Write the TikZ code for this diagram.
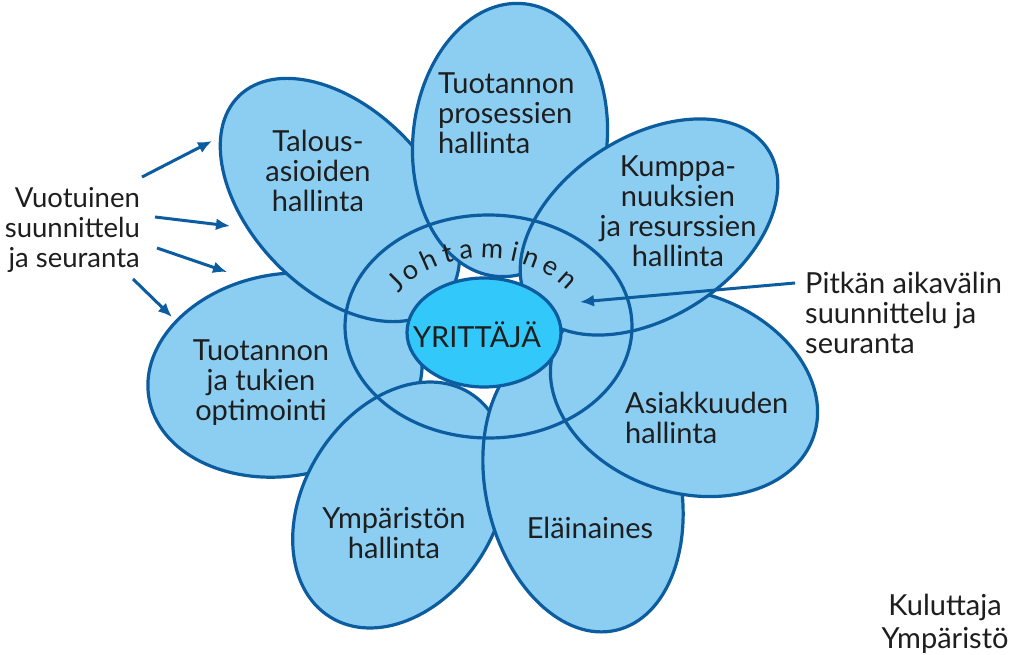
\documentclass[tikz,border=0pt]{standalone}
\usepackage{fontspec}
\setmainfont{Lato}
\usetikzlibrary{arrows.meta}
\definecolor{petalfill}{RGB}{140,206,242}
\definecolor{edgeblue}{RGB}{12,92,160}
\definecolor{corefill}{RGB}{51,200,250}
\definecolor{ink}{RGB}{30,30,30}
\begin{document}
\begin{tikzpicture}[x=1pt,y=-1pt,
  petal/.style={fill=petalfill,draw=edgeblue,line width=3.2pt},
  ring/.style={draw=edgeblue,line width=3.2pt},
  lbl/.style={text=ink,font=\fontsize{29}{30}\selectfont,inner sep=0pt},
  side/.style={text=ink,font=\fontsize{27.5}{30}\selectfont,inner sep=0pt},
  jlet/.style={text=ink,font=\fontsize{27}{27}\selectfont,inner sep=0pt,anchor=base},
  arr/.style={draw=edgeblue,line width=3pt,-{Latex[length=14pt,width=12pt]}}]
\useasboundingbox[fill=white] (0,0) rectangle (1023,655);
% petals (drawing order matters)
\path[petal, rotate around={9.5:(285,375)}] (285,375) ellipse [x radius=138, y radius=101];
\path[petal, rotate around={-32:(400,505)}] (400,505) ellipse [x radius=96, y radius=132];
\path[petal, rotate around={13:(583,487)}] (583,487) ellipse [x radius=97, y radius=147];
\path[petal, rotate around={-19:(684,392)}] (684,392) ellipse [x radius=137, y radius=100];
\path[petal, rotate around={-46:(340,200)}] (340,200) ellipse [x radius=145, y radius=90];
\path[petal, rotate around={-6:(510,140)}] (510,140) ellipse [x radius=97, y radius=137];
\path[petal, rotate around={33:(649,227)}] (649,227) ellipse [x radius=142, y radius=90];
% Johtaminen ring
\path[ring] (488.5,326.5) ellipse [x radius=143.5, y radius=111.5];
% core
\path[fill=corefill,draw=edgeblue,line width=3.2pt] (484,332.5) ellipse [x radius=77, y radius=54.5];
% curved word
\foreach \l/\a [count=\i] in {J/142,o/131.6,h/119.6,t/109.2,a/99.4,m/85.8,i/74,n/64.5,e/52.7,n/41}{
  \node[jlet, rotate={atan2(-81*cos(\a),104*sin(\a))}] (jl\i) at ({484+104*cos(\a)},{339-81*sin(\a)}) {\l};
}
% labels
\node[lbl,align=center] (talous) at (318,171) {Talous-\\asioiden\\hallinta};
\node[lbl,align=left,anchor=west] (tuot) at (438,113) {Tuotannon\\prosessien\\hallinta};
\node[lbl,align=center] (kump) at (678,211) {Kumppa-\\nuuksien\\ja resurssien\\hallinta};
\node[lbl,align=left,anchor=west] (asiak) at (625,418) {Asiakkuuden\\hallinta};
\node[lbl] (elain) at (590,528) {Eläinaines};
\node[lbl,align=center] (ymp) at (394,533) {Ympäristön\\hallinta};
\node[lbl,align=center] (opt) at (261,383) {Tuotannon\\ja tukien\\optimointi};
\node[lbl] (yrit) at (477,335) {YRITTÄJÄ};
\node[side,align=right,anchor=east] (vuot) at (140,230) {Vuotuinen\\suunnittelu\\ja seuranta};
\node[lbl,align=left,anchor=west] (pitk) at (805,313) {Pitkän aikavälin\\suunnittelu ja\\seuranta};
\node[lbl,align=center] (kulu) at (945,624) {Kuluttaja\\[3pt]Ympäristö};
% arrows
\coordinate (a1s) at (142,177); \coordinate (a1e) at (212,141);
\coordinate (a2s) at (155,217); \coordinate (a2e) at (230,226);
\coordinate (a3s) at (157,248); \coordinate (a3e) at (227,272);
\coordinate (a4s) at (133,279); \coordinate (a4e) at (172,317);
\coordinate (b1s) at (795,283); \coordinate (b1e) at (580,302);
\draw[arr] (a1s) -- (a1e);
\draw[arr] (a2s) -- (a2e);
\draw[arr] (a3s) -- (a3e);
\draw[arr] (a4s) -- (a4e);
\draw[arr] (b1s) -- (b1e);
\end{tikzpicture}
\end{document}
